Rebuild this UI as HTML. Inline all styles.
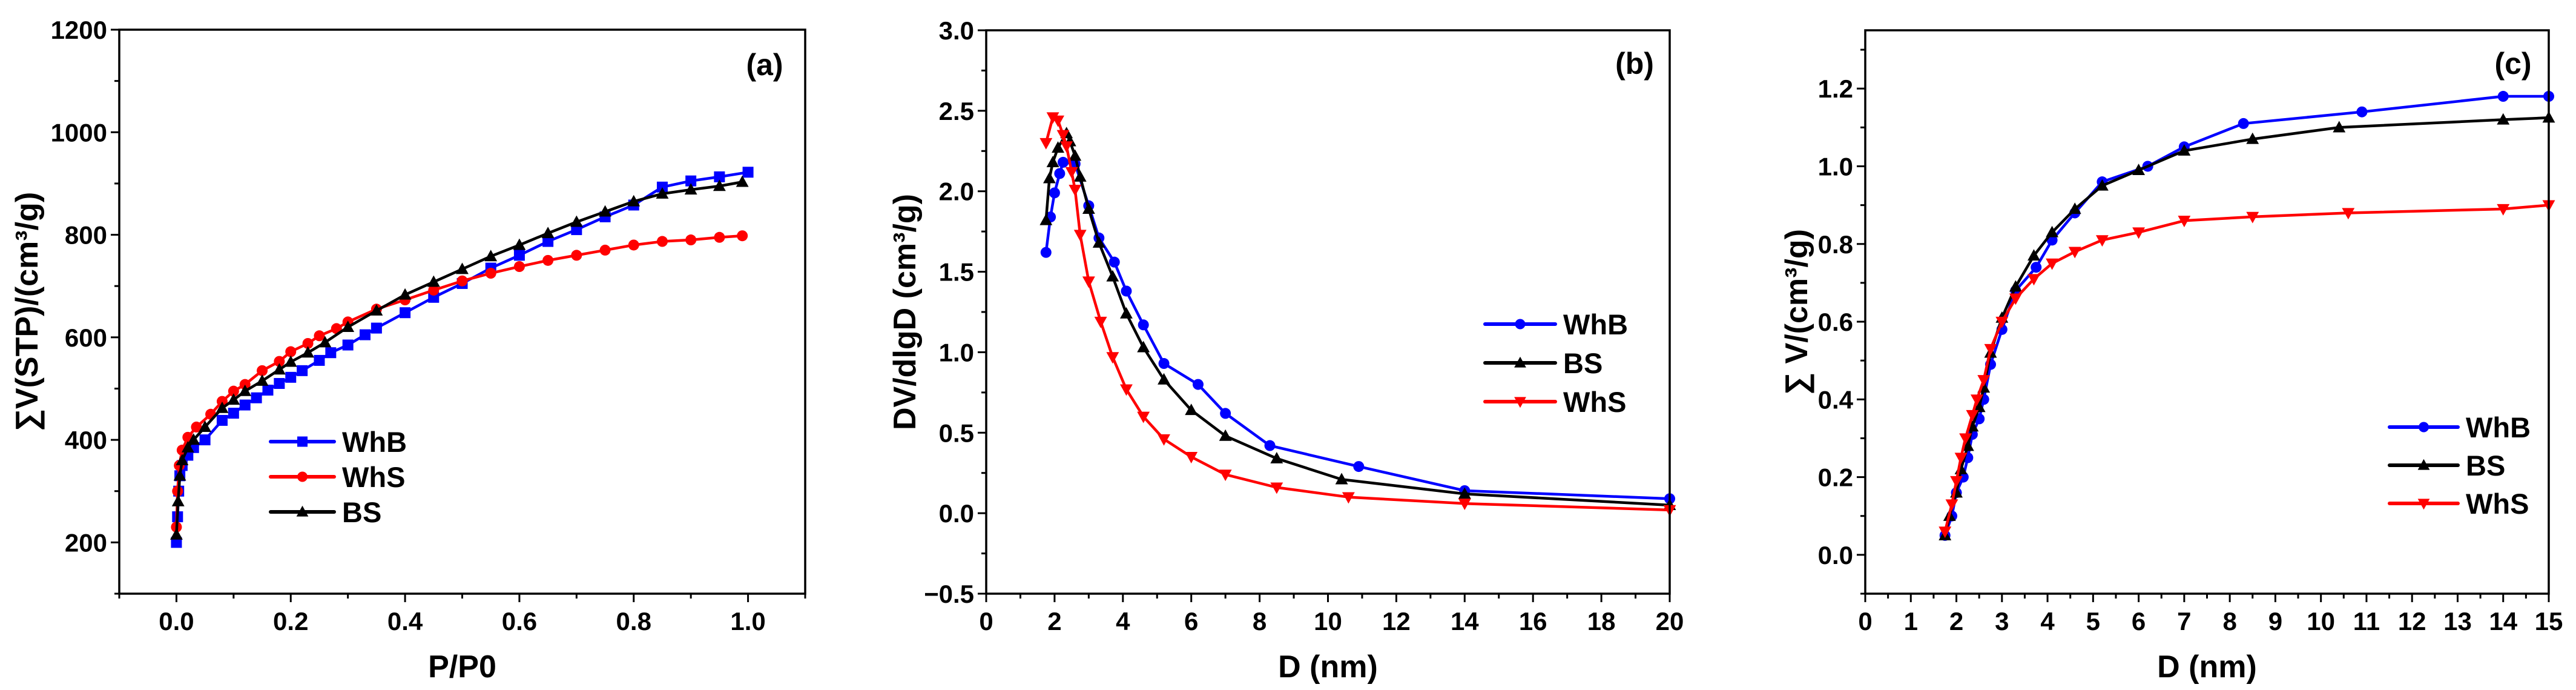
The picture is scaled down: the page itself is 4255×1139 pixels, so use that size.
<!DOCTYPE html>
<html><head><meta charset="utf-8"><style>
html,body{margin:0;padding:0;background:#fff;}
svg{display:block;font-family:"Liberation Sans",Arial,sans-serif;font-weight:bold;}
</style></head>
<body>
<svg id="fig" width="4255" height="1139" viewBox="0 0 4255 1139" xmlns="http://www.w3.org/2000/svg"></svg>
<script>
// ---- Panel (a) data ----
const aWhBx=[0,0.002,0.004,0.006,0.01,0.02,0.03,0.05,0.08,0.1,0.12,0.14,0.16,0.18,0.2,0.22,0.25,0.27,0.3,0.33,0.35,0.4,0.45,0.5,0.55,0.6,0.65,0.7,0.75,0.8,0.85,0.9,0.95,1.0];
const aWhBy=[200,250,300,330,350,370,385,400,438,452,468,482,497,510,522,535,555,570,585,605,618,648,678,705,735,760,787,810,835,858,893,905,913,922];
const aWhSx=[0,0.002,0.005,0.01,0.02,0.035,0.06,0.08,0.1,0.12,0.15,0.18,0.2,0.23,0.25,0.28,0.3,0.35,0.4,0.45,0.5,0.55,0.6,0.65,0.7,0.75,0.8,0.85,0.9,0.95,0.99];
const aWhSy=[230,300,350,380,405,425,450,475,495,508,535,553,572,588,603,617,630,655,673,692,710,725,738,750,760,770,780,787,790,795,798];
const aBSx=[0,0.003,0.006,0.01,0.02,0.03,0.05,0.08,0.1,0.12,0.15,0.18,0.2,0.23,0.26,0.3,0.35,0.4,0.45,0.5,0.55,0.6,0.65,0.7,0.75,0.8,0.85,0.9,0.95,0.99];
const aBSy=[215,280,330,360,385,400,425,462,478,495,515,537,552,570,590,620,652,683,708,733,758,780,803,825,845,865,880,888,895,903];
const aXTicks=["0.0","0.2","0.4","0.6","0.8","1.0"];
const aYTicks=["200","400","600","800","1000","1200"];
// ---- Panel (b) data ----
const bWhBx=[1.75,1.88,2.0,2.15,2.25,2.6,3.0,3.3,3.75,4.1,4.6,5.2,6.2,7.0,8.3,10.9,14,20];
const bWhBy=[1.62,1.84,1.99,2.11,2.18,2.17,1.91,1.71,1.56,1.38,1.17,0.93,0.80,0.62,0.42,0.29,0.14,0.09];
const bBSx=[1.75,1.85,1.95,2.1,2.35,2.45,2.6,2.75,3.0,3.3,3.7,4.1,4.6,5.2,6.0,7.0,8.5,10.4,14,20];
const bBSy=[1.82,2.08,2.18,2.27,2.36,2.31,2.22,2.09,1.89,1.68,1.47,1.24,1.03,0.83,0.64,0.48,0.34,0.21,0.12,0.05];
const bWhSx=[1.75,1.95,2.1,2.25,2.35,2.5,2.6,2.75,3.0,3.35,3.7,4.1,4.6,5.2,6.0,7.0,8.5,10.6,14,20];
const bWhSy=[2.30,2.46,2.44,2.35,2.28,2.12,2.01,1.73,1.44,1.19,0.97,0.77,0.60,0.46,0.35,0.24,0.16,0.10,0.06,0.02];
const bXTicks=["0","2","4","6","8","10","12","14","16","18","20"];
const bYTicks=["-0.5","0.0","0.5","1.0","1.5","2.0","2.5","3.0"];
// ---- Panel (c) data ----
const cWhBx=[1.75,1.9,2.0,2.15,2.25,2.35,2.5,2.6,2.75,3.0,3.3,3.75,4.1,4.6,5.2,6.2,7.0,8.3,10.9,14,15];
const cWhBy=[0.05,0.10,0.16,0.20,0.25,0.31,0.35,0.40,0.49,0.58,0.68,0.74,0.81,0.88,0.96,1.00,1.05,1.11,1.14,1.18,1.18];
const cBSx=[1.75,1.85,2.0,2.1,2.25,2.35,2.5,2.6,2.75,3.0,3.3,3.7,4.1,4.6,5.2,6.0,7.0,8.5,10.4,14,15];
const cBSy=[0.05,0.10,0.16,0.22,0.28,0.33,0.38,0.43,0.52,0.61,0.69,0.77,0.83,0.89,0.95,0.99,1.04,1.07,1.10,1.12,1.125];
const cWhSx=[1.75,1.9,2.0,2.1,2.2,2.35,2.45,2.6,2.75,3.0,3.3,3.7,4.1,4.6,5.2,6.0,7.0,8.5,10.6,14,15];
const cWhSy=[0.06,0.13,0.19,0.25,0.30,0.36,0.40,0.45,0.53,0.60,0.66,0.71,0.75,0.78,0.81,0.83,0.86,0.87,0.88,0.89,0.90];
const cXTicks=["0","1","2","3","4","5","6","7","8","9","10","11","12","13","14","15"];
const cYTicks=["0.0","0.2","0.4","0.6","0.8","1.0","1.2"];

const NS="http://www.w3.org/2000/svg";
const svg=document.getElementById('fig');
function mk(tag,attrs,parent,text){const e=document.createElementNS(NS,tag);for(const k in attrs)e.setAttribute(k,attrs[k]);if(text!==undefined)e.textContent=text;(parent||svg).appendChild(e);return e;}

function marker(g,type,x,y,color,s){
  let e;
  if(type==='square'){e=mk('rect',{x:x-s/2,y:y-s/2,width:s,height:s,fill:color},g);}
  else if(type==='circle'){e=mk('circle',{cx:x,cy:y,r:s/2,fill:color},g);}
  else if(type==='up'){e=mk('polygon',{points:`${x},${y-s*0.6} ${x-s*0.58},${y+s*0.45} ${x+s*0.58},${y+s*0.45}`,fill:color},g);}
  else {e=mk('polygon',{points:`${x},${y+s*0.6} ${x-s*0.58},${y-s*0.45} ${x+s*0.58},${y-s*0.45}`,fill:color},g);}
  return e;
}

function panel(p){
  const g=mk('g',{});
  
  
  const X=v=>p.L+(v-p.x0)/(p.x1-p.x0)*(p.R-p.L);
  const Y=v=>p.B-(v-p.y0)/(p.y1-p.y0)*(p.B-p.T);
  // ticks
  const tg=mk('g',{stroke:'#000','stroke-width':3},g);
  for(let v=p.x0;v<=p.x1+1e-9;v+=p.xminor){
    const isMaj=Math.abs(Math.round((v-p.xmaj0)/p.xmajor)*p.xmajor-(v-p.xmaj0))<1e-6;
    mk('line',{x1:X(v),x2:X(v),y1:p.B,y2:p.B+(isMaj?14:8)},tg);
  }
  for(let v=p.y0;v<=p.y1+1e-9;v+=p.yminor){
    const isMaj=Math.abs(Math.round((v-p.ymaj0)/p.ymajor)*p.ymajor-(v-p.ymaj0))<1e-6;
    mk('line',{x1:p.L,x2:p.L-(isMaj?14:8),y1:Y(v),y2:Y(v)},tg);
  }
  // tick labels
  p.xt.forEach(t=>{const e=mk('text',{x:X(parseFloat(t)),y:1040,'font-size':42,'text-anchor':'middle'},g,t);
    });
  p.yt.forEach(t=>{const e=mk('text',{x:p.L-20,y:Y(parseFloat(t))+15,'font-size':42,'text-anchor':'end'},g,t.replace('-','\u2212'));
    });
  // series
  p.series.forEach(s=>{
    const sg=mk('g',{},g);
    
    
    const pts=s.x.map((v,i)=>X(v)+','+Y(s.y[i])).join(' ');
    mk('polyline',{points:pts,fill:'none',stroke:s.color,'stroke-width':4.5,'stroke-linejoin':'round'},sg);
    s.x.forEach((v,i)=>{const m=marker(sg,s.type,X(v),Y(s.y[i]),s.color,18);
      });
  });
  // frame
  const fr=mk('rect',{x:p.L,y:p.T,width:p.R-p.L,height:p.B-p.T,fill:'none',stroke:'#000','stroke-width':3.5},g);
  
  // titles
  const xt=mk('text',{x:(p.L+p.R)/2,y:1118,'font-size':52,'text-anchor':'middle'},g,p.xtitle);
  
  const cy=(p.T+p.B)/2;
  const yt=mk('text',{x:p.ytx,y:cy,'font-size':52,'text-anchor':'middle',transform:`rotate(-90 ${p.ytx} ${cy})`},g,p.ytitle);
  
  const pl=mk('text',{x:p.lab[0],y:p.lab[1],'font-size':50,'text-anchor':'middle'},g,p.label);
  
  // legend
  const lg=mk('g',{},g);
  
  
  p.legOrder.forEach((idx,k)=>{
    const s=p.series[idx];const ly=p.leg[2]+k*p.leg[3];
    const le=mk('g',{},lg);
    
    
    mk('line',{x1:p.leg[0],x2:p.leg[1],y1:ly,y2:ly,stroke:s.color,'stroke-width':6,'stroke-linecap':'round'},le);
    marker(le,s.type,(p.leg[0]+p.leg[1])/2,ly,s.color,17);
    mk('text',{x:p.leg[1]+13,y:ly+17,'font-size':47},le,s.label);
  });
}

panel({name:'panel-a-isotherm',L:197,R:1330,T:49,B:980,x0:-0.1,x1:1.1,y0:100,y1:1200,
  xminor:0.1,xmajor:0.2,xmaj0:0,yminor:100,ymajor:200,ymaj0:200,xt:aXTicks,yt:aYTicks,
  xtitle:'P/P0',ytitle:'\u2211V(STP)/(cm\u00b3/g)',ytx:62,label:'(a)',lab:[1263,124],
  leg:[447,552,729,58],legOrder:[0,1,2],
  series:[{name:'series-whb',label:'WhB',x:aWhBx,y:aWhBy,color:'#0000ff',type:'square'},
          {name:'series-whs',label:'WhS',x:aWhSx,y:aWhSy,color:'#ff0000',type:'circle'},
          {name:'series-bs',label:'BS',x:aBSx,y:aBSy,color:'#000000',type:'up'}]});
panel({name:'panel-b-psd',L:1629,R:2758,T:50,B:980,x0:0,x1:20,y0:-0.5,y1:3.0,
  xminor:1,xmajor:2,xmaj0:0,yminor:0.25,ymajor:0.5,ymaj0:0,xt:bXTicks,yt:bYTicks,
  xtitle:'D (nm)',ytitle:'DV/dlgD (cm\u00b3/g)',ytx:1512,label:'(b)',lab:[2700,122],
  leg:[2453,2569,535,64],legOrder:[0,1,2],
  series:[{name:'series-whb',label:'WhB',x:bWhBx,y:bWhBy,color:'#0000ff',type:'circle'},
          {name:'series-bs',label:'BS',x:bBSx,y:bBSy,color:'#000000',type:'up'},
          {name:'series-whs',label:'WhS',x:bWhSx,y:bWhSy,color:'#ff0000',type:'down'}]});
panel({name:'panel-c-cumulative',L:3081,R:4210,T:50,B:980,x0:0,x1:15,y0:-0.1,y1:1.35,
  xminor:0.5,xmajor:1,xmaj0:0,yminor:0.1,ymajor:0.2,ymaj0:0,xt:cXTicks,yt:cYTicks,
  xtitle:'D (nm)',ytitle:'\u2211 V/(cm\u00b3/g)',ytx:2985,label:'(c)',lab:[4151,122],
  leg:[3947,4060,705,63],legOrder:[0,1,2],
  series:[{name:'series-whb',label:'WhB',x:cWhBx,y:cWhBy,color:'#0000ff',type:'circle'},
          {name:'series-bs',label:'BS',x:cBSx,y:cBSy,color:'#000000',type:'up'},
          {name:'series-whs',label:'WhS',x:cWhSx,y:cWhSy,color:'#ff0000',type:'down'}]});
</script>
</body></html>
